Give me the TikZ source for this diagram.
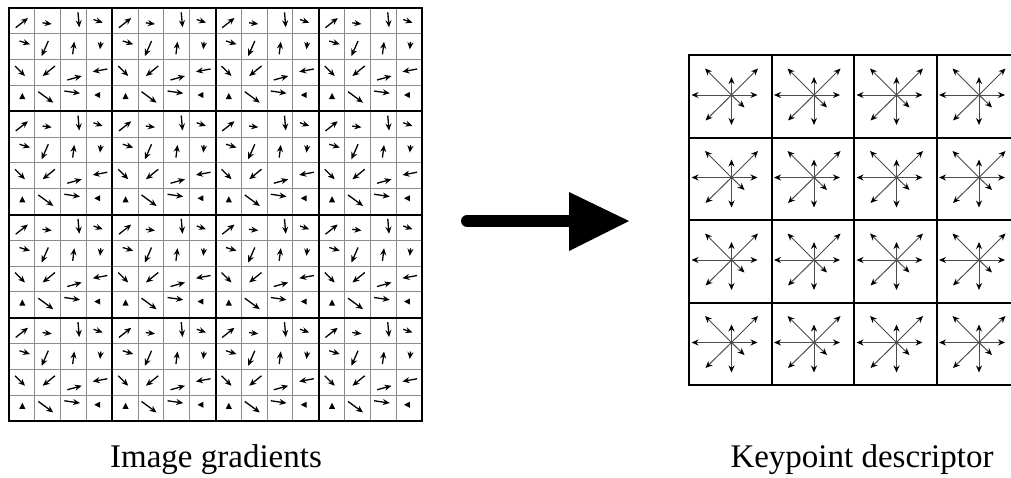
\documentclass[tikz,border=0pt]{standalone}
\usepackage{fontspec}
\setmainfont{Liberation Serif}
\usetikzlibrary{arrows.meta}
\begin{document}
\begin{tikzpicture}[x=1pt,y=-1pt,
  cellline/.style={draw=black!45,line width=0.9pt},
  blockline/.style={draw=black,line width=2pt},
  grad/.style={-{Stealth[length=7pt,width=6pt]},line width=1.3pt},
  starray/.style={-{Stealth[length=7pt,width=6pt,black]},draw=black!70,line width=1pt},
  descline/.style={draw=black,line width=2pt},
  caption/.style={font=\fontsize{33}{40}\selectfont,anchor=base,inner sep=0pt}]
\clip (0,0) rectangle (1011,477);
\fill[white] (0,0) rectangle (1011,477);

% ---- 16x16 grid of sample gradients ----
\foreach \i in {0,...,16} {
  \draw[cellline] ({9+\i*25.8125},8) -- ({9+\i*25.8125},421);
  \draw[cellline] (9,{8+\i*25.8125}) -- (422,{8+\i*25.8125});
}
\foreach \i in {0,...,4} {
  \draw[blockline] ({9+\i*103.25},8) -- ({9+\i*103.25},421);
  \draw[blockline] (8,{8+\i*103.25}) -- (423,{8+\i*103.25});
}
\foreach \bx in {0,...,3} {
  \foreach \by in {0,...,3} {
    \begin{scope}[shift={({9+\bx*103.25},{8+\by*103.25})}]
      % row 1
      \draw[grad] (6.7,19.7) -- (19,10);
      \draw[grad] (33.5,14.8) -- (42.7,16);
      \draw[grad] (69,4.3) -- (70.3,19.3);
      \draw[grad] (84.5,11.5) -- (93.7,14.7);
      % row 2
      \draw[grad] (10.5,33) -- (21,36.3);
      \draw[grad] (39.3,33) -- (32.7,48);
      \draw[grad] (63.7,46.3) -- (65.3,33.7);
      \draw[grad] (91.8,33.8) -- (91,41.3);
      % row 3
      \draw[grad] (6,58) -- (16,68);
      \draw[grad] (46,58) -- (33.7,68);
      \draw[grad] (58.3,72) -- (72.7,68);
      \draw[grad] (98.3,61) -- (83.7,63.7);
      % row 4: gradients too short to show more than a head
      \fill (10.3,91) -- (13.3,85) -- (16.3,91) -- cycle;
      \draw[grad] (29.3,83.7) -- (44.3,94.7);
      \draw[grad] (55.3,83) -- (71,85.3);
      \fill (85.3,87) -- (91,84) -- (91,90) -- cycle;
    \end{scope}
  }
}

% ---- transformation arrow ----
\coordinate (tail) at (467,221);
\coordinate (neck) at (572,221);
\coordinate (tip) at (629,221);
\draw[line width=12pt,line cap=round] (tail) -- (neck);
\fill (569,192) -- (tip) -- (569,251) -- cycle;

% ---- 4x4 descriptor histograms ----
\foreach \i in {0,...,4} {
  \draw[descline] ({689+\i*82.5},55) -- ({689+\i*82.5},385);
  \draw[descline] (688,{55+\i*82.5}) -- (1020,{55+\i*82.5});
}
\foreach \c in {0,...,3} {
  \foreach \r in {0,...,3} {
    \begin{scope}[shift={({689+\c*82.5+42.5},{55+\r*82.5+40})}]
      \draw[starray] (0,0) -- (26,0);
      \draw[starray] (0,0) -- (-40,0);
      \draw[starray] (0,0) -- (0,-18);
      \draw[starray] (0,0) -- (0,30);
      \draw[starray] (0,0) -- (26.5,-26.5);
      \draw[starray] (0,0) -- (-26.5,-26.5);
      \draw[starray] (0,0) -- (-26,25.5);
      \draw[starray] (0,0) -- (13,12.5);
    \end{scope}
  }
}

% ---- captions ----
\node[caption] (gradlabel) at (216,467) {Image gradients};
\node[caption] (desclabel) at (862,467) {Keypoint descriptor};
\end{tikzpicture}
\end{document}
